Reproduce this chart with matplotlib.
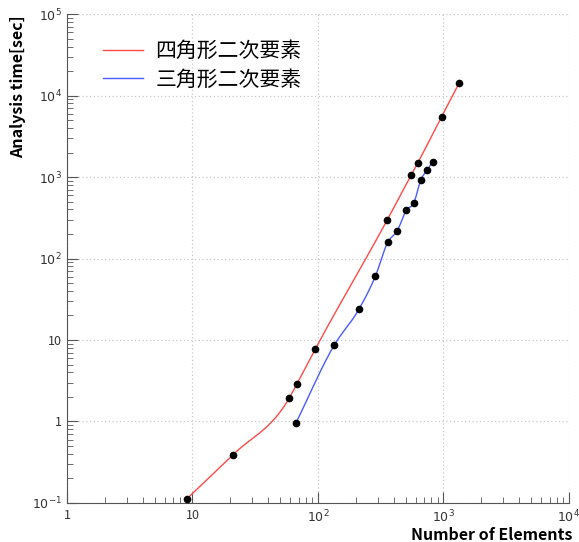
import matplotlib
matplotlib.use("Agg")
import matplotlib.pyplot as plt
import numpy as np

# element count vs analysis time, quadratic quad / quadratic triangle elements
quad_n = [9.0, 21.0, 59.0, 68.0, 95.0, 356.0, 553.0, 625.0, 966.0, 1337.0]
quad_t = [0.112, 0.39, 1.94, 2.9, 7.7, 297.0, 1060.0, 1500.0, 5500.0, 14400.0]
tri_n = [67.0, 135.0, 213.0, 287.0, 360.0, 428.0, 505.0, 581.0, 661.0, 738.0, 819.0]
tri_t = [0.97, 8.7, 24.2, 61.0, 159.0, 219.0, 390.0, 484.0, 927.0, 1208.0, 1541.0]
labels = ["四角形二次要素", "三角形二次要素"]

plt.rcParams["font.family"] = ["Noto Sans CJK JP", "DejaVu Sans"]


def bessel_hermite(x, y, steps=60):
    """Piecewise cubic Hermite curve with three-point (parabolic) slopes."""
    x = np.asarray(x, float)
    y = np.asarray(y, float)
    h = np.diff(x)
    s = np.diff(y) / h
    m = np.empty_like(y)
    m[1:-1] = (h[1:] * s[:-1] + h[:-1] * s[1:]) / (h[:-1] + h[1:])
    m[0], m[-1] = s[0], s[-1]
    t = np.linspace(0, 1, steps)
    xs, ys = [], []
    for i in range(len(h)):
        h00 = 2 * t ** 3 - 3 * t ** 2 + 1
        h10 = t ** 3 - 2 * t ** 2 + t
        h01 = -2 * t ** 3 + 3 * t ** 2
        h11 = t ** 3 - t ** 2
        xs.append(x[i] + t * h[i])
        ys.append(h00 * y[i] + h10 * h[i] * m[i] + h01 * y[i + 1] + h11 * h[i] * m[i + 1])
    return np.concatenate(xs), np.concatenate(ys)


def smooth_loglog(xv, yv):
    lx, ly = bessel_hermite(np.log10(xv), np.log10(yv))
    return 10 ** lx, 10 ** ly


fig = plt.figure(figsize=(5.79, 5.42), dpi=100)
ax = fig.add_axes([0.1157, 0.072, 0.867, 0.902])
ax.set_xscale("log")
ax.set_yscale("log")
ax.set_xlim(1, 1e4)
ax.set_ylim(0.1, 1e5)

for xv, yv, col, lbl in [(quad_n, quad_t, "#ff4a4a", labels[0]),
                         (tri_n, tri_t, "#4a5cff", labels[1])]:
    sx, sy = smooth_loglog(xv, yv)
    ax.plot(sx, sy, color=col, lw=1.0, label=lbl)
    ax.plot(xv, yv, "o", color="black", ms=4.5, zorder=3)

ax.grid(True, which="major", color="#c8c8c8", ls=(0, (1, 2)), lw=0.9)
for s in ("top", "right"):
    ax.spines[s].set_visible(False)
for s in ("left", "bottom"):
    ax.spines[s].set_color("#555555")

ax.tick_params(which="both", direction="in", colors="#555555", labelcolor="#333333",
               labelsize=9)
ax.tick_params(which="major", length=8)
ax.tick_params(which="minor", length=4)
ax.tick_params(axis="x", pad=4)

xt = [1, 10, 100, 1000, 10000]
ax.set_xticks(xt, ["1", "10", r"$10^{2}$", r"$10^{3}$", r"$10^{4}$"])
yt = [0.1, 1, 10, 100, 1000, 1e4, 1e5]
ax.set_yticks(yt, [r"$10^{-1}$", "1", "10", r"$10^{2}$", r"$10^{3}$",
                   r"$10^{4}$", r"$10^{5}$"])

# axis titles sit at the outer corners of the figure
fig.text(572 / 579, 1 - 535 / 542, "Number of Elements", fontsize=11.5,
         fontweight="bold", ha="right", va="center")
fig.text(18 / 579, 1 - 15 / 542, "Analysis time[sec]", fontsize=11.5,
         fontweight="bold", rotation=90, ha="center", va="top")

ax.legend(loc="upper left", bbox_to_anchor=(0.035, 0.985), frameon=False,
          fontsize=15, handlelength=1.9, handletextpad=0.6, labelspacing=0.3)

fig.savefig("out.png", dpi=100)
